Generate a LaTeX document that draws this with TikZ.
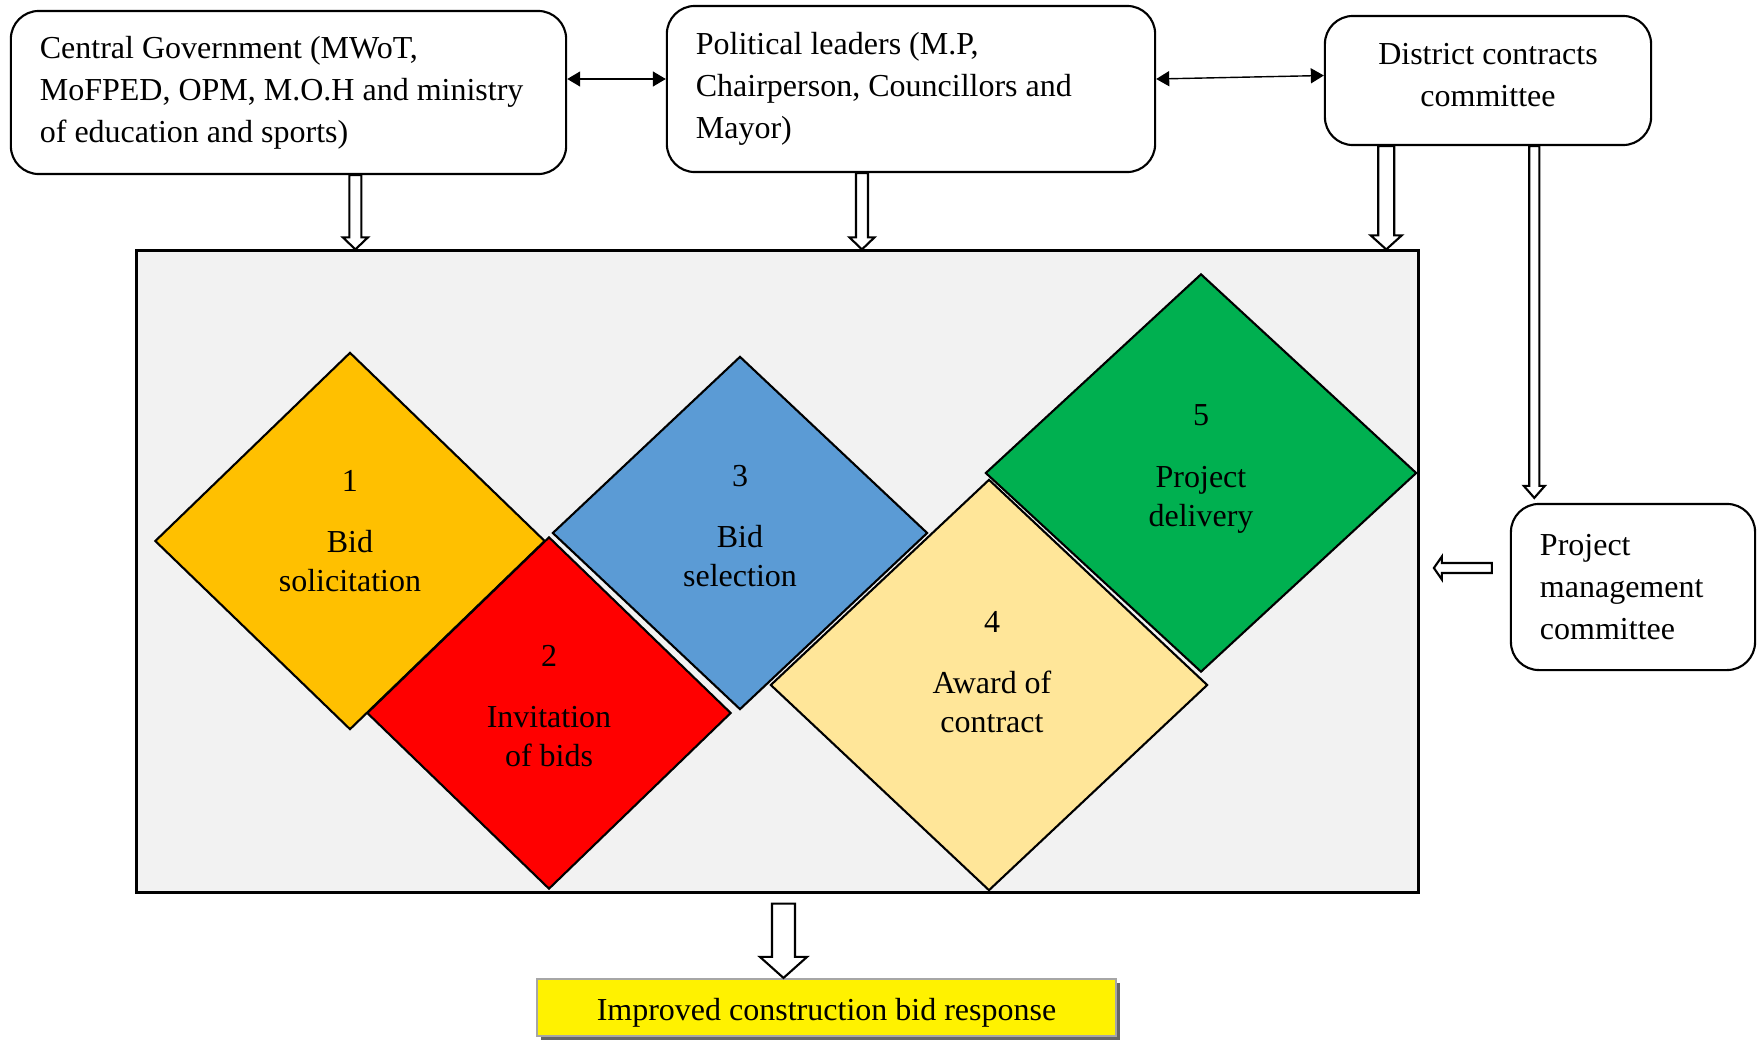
\documentclass[tikz,border=0pt]{standalone}
\usepackage{fontspec}
\setmainfont{Liberation Serif}
\usetikzlibrary{shapes.geometric,arrows.meta,calc,shadows}
\definecolor{stone}{HTML}{F2F2F2}
\definecolor{amber}{HTML}{FFC000}
\definecolor{sky}{HTML}{5B9BD5}
\definecolor{sand}{HTML}{FFE699}
\definecolor{leaf}{HTML}{00B050}
\definecolor{rim}{HTML}{A6A6A6}
\newcommand{\hollowArrow}[5]{%
  \coordinate (hh) at ($(#2)!#5!(#1)$);
  \draw[fill=white] ($(#1)!#3!90:(#2)$) -- ($(hh)!#3!-90:(#1)$) -- ($(hh)!#4!-90:(#1)$) -- (#2)
    -- ($(hh)!#4!90:(#1)$) -- ($(hh)!#3!90:(#1)$) -- ($(#1)!#3!-90:(#2)$) -- cycle;}

\begin{document}
\begin{tikzpicture}[x=0.01cm,y=-0.01cm,semithick,
  >={Triangle[length=1.3mm,width=1.5mm]},
  box/.style={draw,rounded corners=2.8mm,inner xsep=2.9mm,inner ysep=0pt,font=\fontsize{9.1}{11.95}\selectfont},
  stage/.style={draw,diamond,inner sep=0pt},
  stagetext/.style={align=center,inner sep=0pt,font=\fontsize{9.1}{11.1}\selectfont}]
\useasboundingbox (0,0) rectangle (1763,1039);

\node[box,minimum width=5.55cm,minimum height=1.63cm,text width=4.97cm,align=flush left] (cg) at (288.5,92.5)
  {Central Government (MWoT,\\MoFPED, OPM, M.O.H and ministry\\of education and sports)};
\node[box,minimum width=4.88cm,minimum height=1.66cm,text width=4.30cm,align=flush left] (pl) at (911,89)
  {Political leaders (M.P,\\Chairperson, Councillors and\\Mayor)};
\node[box,minimum width=3.26cm,minimum height=1.29cm,align=center] (dc) at (1488,80.5)
  {District contracts\\committee\\[-8.5pt]\mbox{}};
\node[box,minimum width=2.44cm,minimum height=1.66cm,text width=1.86cm,align=flush left] (pm) at (1633,587)
  {Project\\management\\committee};

\node[draw,thick,fill=stone,minimum width=12.81cm,minimum height=6.41cm] (frame) at (777.5,571.5) {};

\node[stage,fill=amber,minimum width=3.90cm,minimum height=3.77cm] (s1) at (350,541) {};
\node[stage,fill=red,minimum width=3.64cm,minimum height=3.52cm] (s2) at (549,713) {};
\node[stage,fill=sky,minimum width=3.75cm,minimum height=3.53cm] (s3) at (740,533) {};
\node[stage,fill=sand,minimum width=4.37cm,minimum height=4.11cm] (s4) at (989,685) {};
\node[stage,fill=leaf,minimum width=4.31cm,minimum height=3.98cm] (s5) at (1201,473) {};
\node[stagetext] (t1) at ($(s1)+(0,-10)$) {1\\[6.3pt]Bid\\solicitation};
\node[stagetext] (t2) at ($(s2)+(0,-7)$) {2\\[6.3pt]Invitation\\of bids};
\node[stagetext] (t3) at ($(s3)+(0,-7)$) {3\\[6.3pt]Bid\\selection};
\node[stagetext] (t4) at ($(s4)+(3,-13)$) {4\\[6.3pt]Award of\\contract};
\node[stagetext] (t5) at ($(s5)+(0,-4)$) {5\\[6.3pt]Project\\delivery};

\node[draw=rim,fill=yellow,minimum width=5.79cm,minimum height=0.57cm,inner sep=0pt,text height=9.6pt,text depth=2pt,
  drop shadow={shadow xshift=0.4mm,shadow yshift=-0.4mm,fill=black!60,opacity=1},
  font=\fontsize{9.1}{11.95}\selectfont] (out) at (826.5,1007.5) {Improved construction bid response};

\draw[<->,thin] ($(cg.east)+(0,-13.5)$) -- ($(pl.west)+(0,-10)$);
\draw[<->,thin] ($(pl.east)+(0,-10)$) -- ($(dc.west)+(0,-5)$);

\coordinate (a1) at ($(cg.south west)!0.62!(cg.south east)$);
\coordinate (b1) at (a1 |- frame.north);
\coordinate (a2) at ($(pl.south west)!0.40!(pl.south east)$);
\coordinate (b2) at (a2 |- frame.north);
\coordinate (a3) at ($(dc.south west)!0.19!(dc.south east)$);
\coordinate (b3) at (a3 |- frame.north);
\coordinate (a4) at ($(dc.south west)!0.641!(dc.south east)$);
\coordinate (b4) at ($(a4 |- pm.north)+(0,-5)$);
\coordinate (a5) at ($(pm.west)+(-18,-19)$);
\coordinate (b5) at ($(pm.west)+(-76,-19)$);
\coordinate (a6) at ($(frame.south)+(6,10)$);
\coordinate (b6) at (a6 |- out.north);
\hollowArrow{a1}{b1}{0.6mm}{1.25mm}{1.2mm}
\hollowArrow{a2}{b2}{0.6mm}{1.25mm}{1.2mm}
\hollowArrow{a3}{b3}{0.8mm}{1.55mm}{1.4mm}
\hollowArrow{a4}{b4}{0.5mm}{1.05mm}{1.2mm}
\hollowArrow{a5}{b5}{0.5mm}{1.15mm}{0.8mm}
\hollowArrow{a6}{b6}{1.15mm}{2.35mm}{2.1mm}
\end{tikzpicture}
\end{document}
